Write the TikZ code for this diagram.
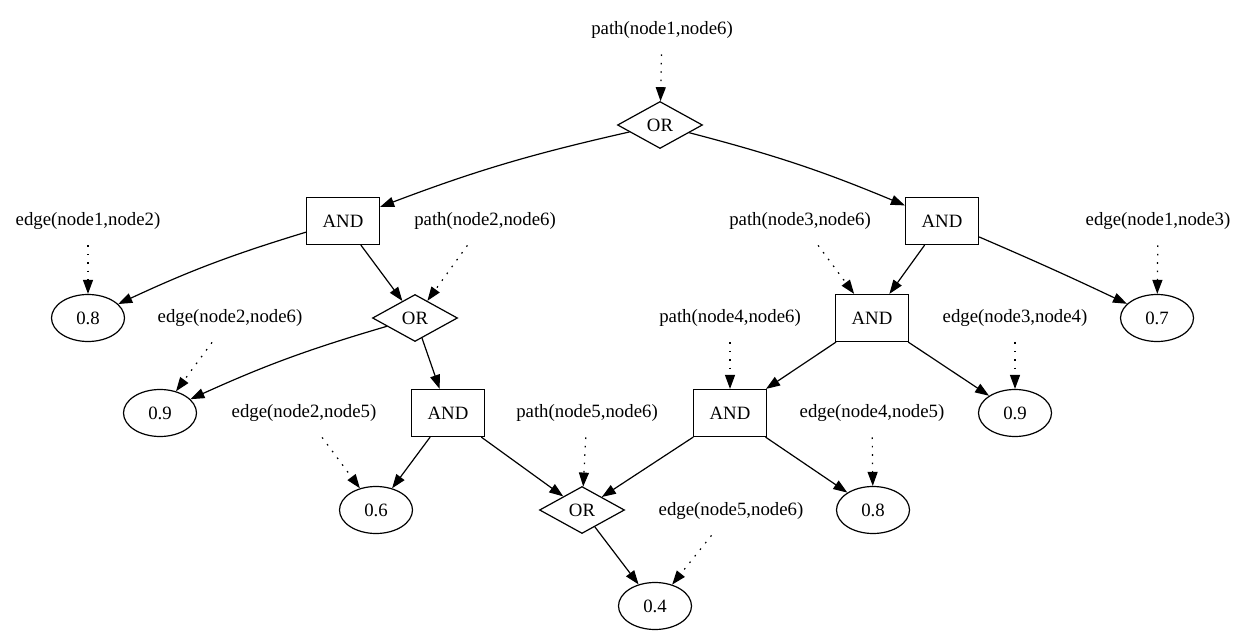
\documentclass[tikz,border=0pt]{standalone}
\usepackage{fontspec}
\setmainfont{Liberation Serif}
\usetikzlibrary{shapes.geometric, arrows.meta}

\begin{document}
\begin{tikzpicture}[x=0.5pt, y=-0.5pt,
    every node/.style={font=\fontsize{9.4}{11}\selectfont},
    gate/.style={draw, line width=0.6pt, minimum width=36.5pt, minimum height=23.5pt, inner sep=0pt},
    andbox/.style={gate, rectangle},
    orbox/.style={gate, diamond, minimum width=42.5pt},
    prob/.style={gate, ellipse},
    lbl/.style={minimum height=24pt, inner xsep=5pt},
    arr/.style={-{Triangle[length=7pt,width=5pt]}, line width=0.6pt},
    dotarr/.style={arr, dash pattern=on 0.8pt off 3.4pt}]
        \useasboundingbox (0,0) rectangle (1245,635);

        % Gates
        \node[orbox] (or1) at (660,125) {OR};
        \node[andbox] (and12) at (343,221) {AND};
        \node[andbox] (and13) at (942,221) {AND};
        \node[orbox] (or2) at (415,318) {OR};
        \node[andbox] (and34) at (872,318) {AND};
        \node[andbox] (and25) at (448,413) {AND};
        \node[andbox] (and45) at (730,413) {AND};
        \node[orbox] (or5) at (582,510) {OR};

        % Probabilities
        \foreach \name/\x/\y/\val in {v12/88/318/0.8, v13/1157/318/0.7, v26/160/413/0.9,
            v34/1015/413/0.9, v25/376/510/0.6, v45/873/510/0.8, v56/655/606/0.4} {
          \node[prob] (\name) at (\x,\y) {\val};
        }

        % Labels
        \foreach \name/\x/\y/\txt in {lp16/662/30/{path(node1,node6)},
            le12/88/221/{edge(node1,node2)}, lp26/485/221/{path(node2,node6)},
            lp36/800/221/{path(node3,node6)}, le13/1158/221/{edge(node1,node3)},
            le26/230/318/{edge(node2,node6)}, lp46/730/318/{path(node4,node6)},
            le34/1015/318/{edge(node3,node4)}, le25/304/413/{edge(node2,node5)},
            lp56/587/413/{path(node5,node6)}, le45/872/413/{edge(node4,node5)},
            le56/731/511/{edge(node5,node6)}} {
          \node[lbl] (\name) at (\x,\y) {\txt};
        }

        % Dotted links
        \foreach \a/\b in {lp16/or1, le12/v12, lp26/or2, lp36/and34, le13/v13,
            le26/v26, lp46/and45, le34/v34, le25/v25, lp56/or5, le45/v45, le56/v56} {
          \draw[dotarr] (\a) -- (\b);
        }

        % Solid links
        \draw[arr] (or1) to[bend right=4] (and12);
        \draw[arr] (or1) to[bend left=4] (and13);
        \draw[arr] (and12) to[bend right=4] (v12);
        \draw[arr] (or2) to[bend right=4] (v26);
        \draw[arr] (and13) to[bend left=1] (v13);
        \foreach \a/\b in {and12/or2, and13/and34, or2/and25, and34/and45,
            and34/v34, and25/v25, and25/or5, and45/or5, and45/v45, or5/v56} {
          \draw[arr] (\a) -- (\b);
        }
      \end{tikzpicture}
\end{document}
